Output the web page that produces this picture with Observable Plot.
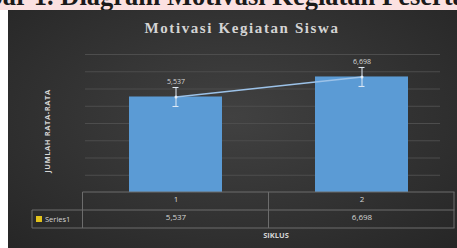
<!DOCTYPE html>
<html><head><meta charset="utf-8">
<script src="https://cdn.jsdelivr.net/npm/d3@7"></script>
<script src="https://cdn.jsdelivr.net/npm/@observablehq/plot@0.6"></script>
<style>
html,body{margin:0;padding:0;background:#fff;width:457px;height:248px;overflow:hidden;}
#cap{position:relative;height:10px;background:#fbe1e1;overflow:hidden;}
#cap span.t{position:absolute;top:-17px;left:0;white-space:nowrap;font:bold 26.5px "Liberation Serif",serif;color:#1a1a1a;line-height:27px;}
#row{display:flex;height:238px;}
#gut{width:8px;background:#fff;}
#chart{width:449px;height:238px;}
</style></head>
<body>
<div id="cap"><span class="t" id="capt">Gambar 1. <span id="anchor">Diagram</span> Motivasi Kegiatan Peserta Didik</span></div>
<div id="row"><div id="gut"></div><div id="chart"></div></div>
<script>
const chartTitle = "Motivasi Kegiatan Siswa";
const yLabel = "JUMLAH RATA-RATA";
const xLabel = "SIKLUS";
const seriesName = "Series1";
const categories = ["1", "2"];
const values = [5.537, 6.698];
const valueLabels = ["5,537", "6,698"];
const errors = [0.55, 0.55];
const yTicks = [0, 1, 2, 3, 4, 5, 6, 7, 8];

// align caption text
const cap = document.getElementById("capt");
const anc = document.getElementById("anchor");
cap.style.left = (60 - anc.offsetLeft) + "px";

const data = categories.map((c, i) => ({c, v: values[i], lab: valueLabels[i], e: errors[i]}));
const txt = "#d6d6d6";
const font = "'Open Sans', 'Liberation Sans', sans-serif";

const plot = Plot.plot({
  width: 449, height: 238,
  marginLeft: 74, marginRight: 2, marginTop: 44, marginBottom: 56,
  style: {background: "radial-gradient(ellipse at 50% 45%, #414141 0%, #353535 45%, #262626 100%)", fontFamily: font, color: txt},
  x: {domain: categories, paddingInner: 0.5, paddingOuter: 0.25, axis: null},
  y: {domain: [0, 8], axis: null},
  marks: [
    Plot.ruleY(yTicks.slice(1), {stroke: "#4d4d4d", strokeWidth: 1, insetLeft: 3, insetRight: 15}),
    Plot.barY(data, {x: "c", y: "v", fill: "#5b9bd5"}),
    Plot.line(data, {x: "c", y: "v", stroke: "#9cc2e8", strokeWidth: 1.5}),
    Plot.ruleX(data, {x: "c", y1: d => d.v - d.e, y2: d => d.v + d.e, stroke: "#e2ecf7", strokeWidth: 1}),
    Plot.tickY(data, {x: "c", y: d => d.v + d.e, stroke: "#e2ecf7", insetLeft: 43.5, insetRight: 43.5}),
    Plot.tickY(data, {x: "c", y: d => d.v - d.e, stroke: "#e2ecf7", insetLeft: 43.5, insetRight: 43.5}),
    Plot.dot(data, {x: "c", y: "v", r: 1.5, fill: "#e2ecf7"}),
    Plot.text(data, {x: "c", y: d => d.v + d.e, text: "lab", dy: -6, fill: txt, fontSize: 7}),
    // table header & values
    Plot.text(categories, {x: d => d, text: d => d, frameAnchor: "bottom", dy: 9, fill: txt, fontSize: 8}),
    Plot.text(data, {x: "c", text: "lab", frameAnchor: "bottom", dy: 27, fill: txt, fontSize: 8}),
    Plot.text([xLabel], {frameAnchor: "bottom", dx: 7, dy: 45, text: d => d, fill: txt, fontSize: 7.5, fontWeight: "bold"}),
    Plot.text([chartTitle], {frameAnchor: "top", dx: -27, dy: -32, text: d => d, fill: "#d4d4d4", fontSize: 15, fontWeight: "bold", fontFamily: "'Liberation Serif', serif", className: "ttl"}),
  ]
});
document.getElementById("chart").appendChild(plot);

const svg = d3.select(plot);
svg.selectAll(".ttl text").style("letter-spacing", "1.6px");

// table grid + legend, positioned from plot scales
const xs = plot.scale("x"), ys = plot.scale("y");
const step = xs.step, bw = xs.bandwidth;
const x0 = xs.apply(categories[0]) - (step - bw) / 2;
const xEnd = xs.apply(categories[categories.length - 1]) + bw + (step - bw) / 2;
const yTop = ys.apply(0), rowH = 18;
const g = svg.append("g").attr("stroke", "#6c6c6c").attr("stroke-width", 1).attr("fill", "none");
g.append("line").attr("x1", x0).attr("x2", xEnd).attr("y1", yTop).attr("y2", yTop);
g.append("line").attr("x1", 24).attr("x2", xEnd).attr("y1", yTop + rowH).attr("y2", yTop + rowH);
g.append("line").attr("x1", 24).attr("x2", xEnd).attr("y1", yTop + 2 * rowH).attr("y2", yTop + 2 * rowH);
g.append("line").attr("x1", 24).attr("x2", 24).attr("y1", yTop + rowH).attr("y2", yTop + 2 * rowH);
categories.forEach((c, i) => {
  const xl = xs.apply(c) - (step - bw) / 2;
  g.append("line").attr("x1", xl).attr("x2", xl).attr("y1", yTop).attr("y2", yTop + 2 * rowH);
});
g.append("line").attr("x1", xEnd - 0.5).attr("x2", xEnd - 0.5).attr("y1", yTop).attr("y2", yTop + 2 * rowH);
svg.append("rect").attr("x", 28).attr("y", yTop + rowH + 6).attr("width", 6).attr("height", 6).attr("fill", "#e2c21c");
svg.append("text").attr("x", 37).attr("y", yTop + rowH + 9).attr("dy", "0.35em").attr("text-anchor", "start").attr("fill", txt).attr("font-size", 7.5).attr("font-family", font).text(seriesName);
// y axis label
svg.append("text").attr("transform", `translate(39,${(ys.apply(0) + ys.apply(8)) / 2 + 8}) rotate(-90)`).attr("text-anchor", "middle").attr("dy", "0.35em")
  .attr("fill", txt).attr("font-size", 7.5).attr("font-weight", "bold").attr("font-family", font).style("letter-spacing", "0.6px").text(yLabel);
</script>
</body></html>
